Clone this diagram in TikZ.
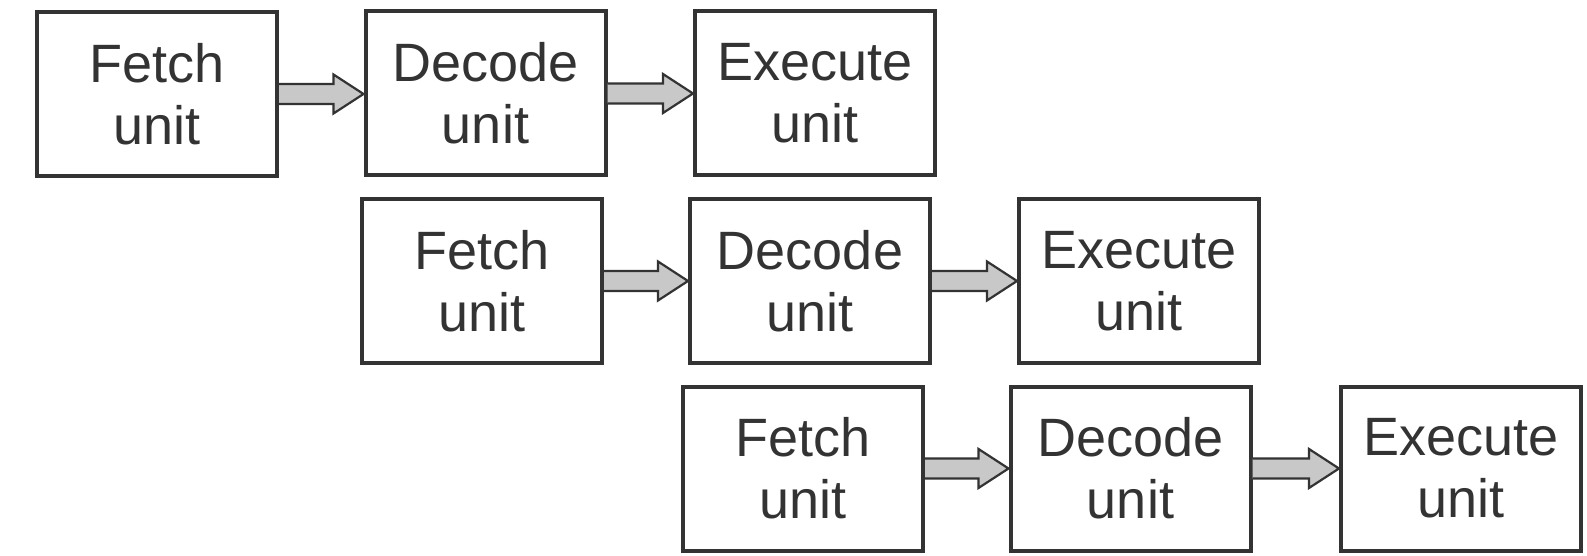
\documentclass[tikz,border=0pt]{standalone}
\usepackage{fontspec}
\setmainfont{Liberation Sans}
\usetikzlibrary{calc}
\definecolor{edge}{HTML}{333333}
\definecolor{shaft}{HTML}{C8C8C8}
\tikzset{
  unitbox/.style={draw=edge, line width=2pt, minimum width=120pt, minimum height=82pt,
    align=center, text=edge, font=\fontsize{27}{31}\selectfont, inner sep=0pt},
  barrow/.style={draw=edge, fill=shaft, line width=1.1pt, line join=miter}
}
% block arrow from the east side of #1 to the west side of #2
\newcommand\blockarrow[2]{%
  \draw[barrow] let \p1=(#1.east), \p2=(#2.west) in
    (\x1,\y1+5pt) -- (\x2-15pt,\y1+5pt) -- (\x2-15pt,\y1+9.75pt) -- (\x2,\y1)
    -- (\x2-15pt,\y1-9.75pt) -- (\x2-15pt,\y1-5pt) -- (\x1,\y1-5pt);}
\begin{document}
\begin{tikzpicture}[x=0.5pt,y=-0.5pt]
\useasboundingbox (0,0) rectangle (1587,556);
% first instruction
\node[unitbox] (f1) at (157,94) {Fetch\\unit};
\node[unitbox] (d1) at (485.5,93.5) {Decode\\unit};
\node[unitbox] (e1) at (815,93.5) {Execute\\unit};
% second instruction
\node[unitbox] (f2) at (482,281) {Fetch\\unit};
\node[unitbox] (d2) at (810,281) {Decode\\unit};
\node[unitbox] (e2) at (1139,281) {Execute\\unit};
% third instruction
\node[unitbox] (f3) at (803,468.5) {Fetch\\unit};
\node[unitbox] (d3) at (1130.5,468.5) {Decode\\unit};
\node[unitbox] (e3) at (1461,468.5) {Execute\\unit};
\blockarrow{f1}{d1}
\blockarrow{d1}{e1}
\blockarrow{f2}{d2}
\blockarrow{d2}{e2}
\blockarrow{f3}{d3}
\blockarrow{d3}{e3}
\end{tikzpicture}
\end{document}
